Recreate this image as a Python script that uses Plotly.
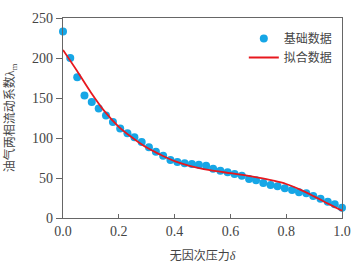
import plotly.graph_objects as go

# Base data (scatter)
x_base = [0.000, 0.026, 0.051, 0.077, 0.103, 0.128, 0.154, 0.179, 0.205, 0.231,
          0.256, 0.282, 0.308, 0.333, 0.359, 0.385, 0.410, 0.436, 0.462, 0.487,
          0.513, 0.538, 0.564, 0.590, 0.615, 0.641, 0.667, 0.692, 0.718, 0.744,
          0.769, 0.795, 0.821, 0.846, 0.872, 0.897, 0.923, 0.949, 0.974, 1.000]
y_base = [233, 200, 176, 153, 145, 137, 128, 120, 112, 106,
          101, 95, 88.4, 82.9, 77.9, 72.5, 70, 68.3, 67.5, 66.7,
          65.4, 61.6, 59.1, 57.1, 55, 52.9, 48.8, 47.1, 43.8, 41.3,
          39.6, 37.1, 35, 32.1, 30.9, 27.5, 24.1, 20.4, 17.1, 12.9]

# Fitted curve
x_fit = [0.00, 0.05, 0.10, 0.15, 0.20, 0.25, 0.30, 0.35, 0.40, 0.45, 0.50,
         0.55, 0.60, 0.65, 0.70, 0.75, 0.80, 0.85, 0.90, 0.95, 1.00]
y_fit = [210, 184, 157, 133, 114, 100, 88, 79, 71, 65.5, 61.5,
         58.5, 56, 53.5, 50.5, 47, 42.5, 35.5, 27, 18, 9]

x_ticks = [0.0, 0.2, 0.4, 0.6, 0.8, 1.0]
x_tick_labels = ["0.0", "0.2", "0.4", "0.6", "0.8", "1.0"]
y_ticks = [0, 50, 100, 150, 200, 250]

SERIF = "Times New Roman, Liberation Serif, serif"
FONT = "Times New Roman, Liberation Serif, Noto Sans CJK SC, serif"

fig = go.Figure()
fig.add_trace(go.Scatter(
    x=x_base, y=y_base, mode="markers", name="基础数据",
    marker=dict(color="#16A6E6", size=8), cliponaxis=False))
fig.add_trace(go.Scatter(
    x=x_fit, y=y_fit, mode="lines", name="拟合数据",
    line=dict(color="#E8181E", width=1.8, shape="spline"), cliponaxis=False))

fig.update_layout(
    width=362, height=265,
    margin=dict(l=63, r=20, t=18, b=47, autoexpand=False),
    paper_bgcolor="white", plot_bgcolor="white",
    font=dict(family=FONT, size=13, color="#444"),
    showlegend=True,
    legend=dict(x=0.985, y=0.97, xanchor="right", yanchor="top",
                bgcolor="rgba(0,0,0,0)", font=dict(family=FONT, size=12, color="#444"),
                itemwidth=30, tracegroupgap=2),
)
fig.update_xaxes(
    range=[0, 1], tickvals=x_ticks, ticktext=x_tick_labels,
    showgrid=False, zeroline=False,
    showline=True, linecolor="#666", linewidth=1.3, mirror=True,
    ticks="inside", ticklen=4, tickcolor="#666",
    tickfont=dict(family=SERIF, size=14, color="#444"),
    title=dict(text="无因次压力<i>δ</i>", font=dict(family=FONT, size=12, color="#444"), standoff=13),
)
fig.update_yaxes(
    range=[0, 250], tickvals=y_ticks,
    showgrid=False, zeroline=False,
    showline=True, linecolor="#666", linewidth=1.3, mirror=True,
    ticks="outside", ticklen=6, tickcolor="#666",
    tickfont=dict(family=SERIF, size=14, color="#444"),
    title=dict(text="油气两相流动系数λ<sub>m</sub>", font=dict(family=FONT, size=12, color="#444"), standoff=14),
)

fig.write_html("out.html",
               config={"displayModeBar": False, "staticPlot": True},
               post_script="document.body.style.margin='0';document.body.style.padding='0';")
